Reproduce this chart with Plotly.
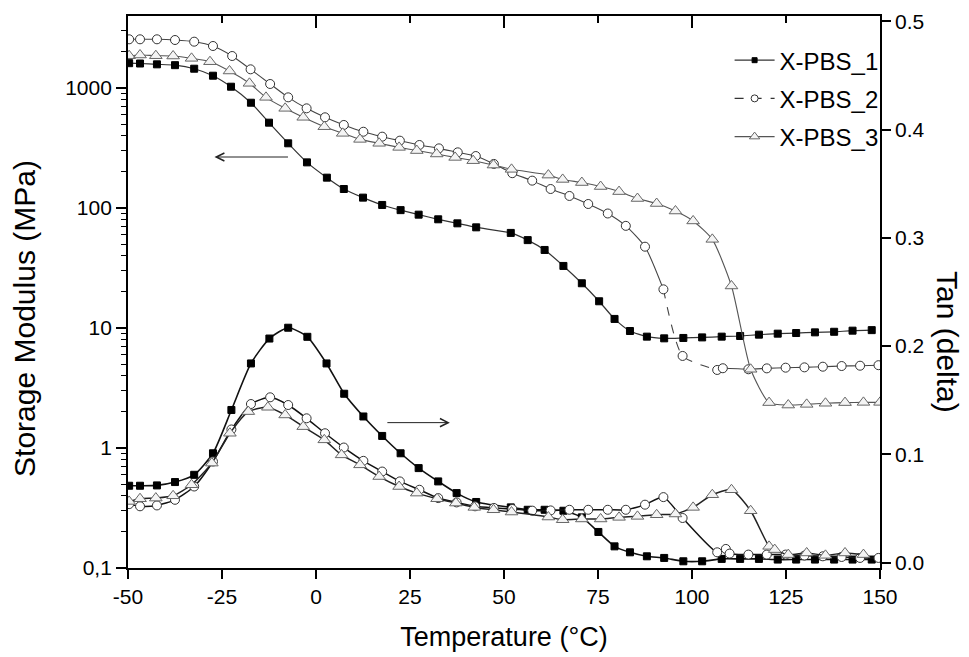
import plotly.graph_objects as go

# ---------------- data ----------------
T1_E = [-49.7, -46.8, -42.3, -37.5, -32.4, -27.4, -22.6, -17.3, -12.5, -7.4, -2.4, 2.9, 7.4, 12.5, 17.6,
        22.5, 27.3, 32.5, 37.6, 42.6, 51.8, 56.3, 60.8, 65.8, 70.7, 75.3, 79.4, 83.5, 88.0, 92.6,
        97.7, 102.7, 107.9, 112.8, 117.8, 122.8, 127.7, 132.7, 137.8, 142.7, 147.8]
E1 = [1610, 1600, 1575, 1550, 1448, 1266, 1025, 754, 514, 346, 240, 179, 144, 122, 106,
      96, 88, 80.5, 74.5, 69, 62, 54, 44.7, 32.9, 23.6, 16.7, 11.9, 9.44, 8.47, 8.2,
      8.26, 8.35, 8.47, 8.58, 8.8, 8.97, 9.08, 9.2, 9.3, 9.5, 9.6]

T2_E = [-49.7, -46.8, -42.3, -37.5, -32.4, -27.4, -22.3, -17.4, -12.2, -7.4, -2.5, 2.4, 7.4, 12.6, 17.6,
        22.3, 27.5, 32.7, 37.7, 42.5, 47.3, 52.2, 57.5, 62.4, 67.4, 72.4, 77.6, 82.4, 87.5, 92.4,
        97.5, 106.7, 108.2, 115.0, 119.9, 124.9, 129.9, 134.8, 139.8, 144.7, 149.6]
E2 = [2546, 2546, 2546, 2512, 2432, 2239, 1848, 1431, 1080, 836, 677, 570, 492, 432, 393,
      364, 335, 314, 291, 271, 233, 195, 169, 144, 126, 108, 90, 71, 47.6, 21,
      5.85, 4.47, 4.62, 4.53, 4.61, 4.67, 4.70, 4.76, 4.82, 4.85, 4.9]

T3_E = [-49.7, -46.8, -42.6, -38.0, -33.1, -28.2, -23.0, -17.7, -13.3, -8.2, -3.4, 2.2, 7.1, 11.7, 16.8,
        22.1, 26.8, 32.1, 37.0, 41.8, 47.2, 52.0, 61.8, 65.6, 70.7, 75.7, 80.6, 85.5, 90.6, 95.6,
        100.3, 105.4, 110.5, 115.6, 120.5, 125.6, 130.5, 135.5, 140.7, 145.6, 150.0]
E3 = [1858, 1884, 1858, 1848, 1767, 1656, 1386, 1094, 836, 677, 570, 476, 419, 373, 346,
      320, 301, 282, 264, 248, 228, 210, 188, 173, 163, 151, 137, 120, 109, 94.4,
      78, 54.8, 22.4, 4.53, 2.39, 2.28, 2.31, 2.36, 2.39, 2.40, 2.40]

T1_tan = [-49.7, -46.8, -42.3, -37.5, -32.4, -27.4, -22.5, -17.3, -12.4, -7.4, -2.3, 2.8, 7.5, 12.6, 17.6,
          22.5, 27.3, 32.5, 37.4, 42.6, 51.8, 56.3, 60.8, 65.8, 70.7, 75.1, 79.4, 83.5, 88.0, 92.6,
          97.7, 102.7, 107.9, 112.8, 117.8, 122.8, 127.7, 132.7, 137.8, 142.7, 147.8]
tan1 = [0.071, 0.071, 0.0713, 0.0744, 0.0811, 0.101, 0.141, 0.184, 0.207, 0.217, 0.2086, 0.184, 0.156, 0.135, 0.117,
        0.101, 0.0873, 0.075, 0.0642, 0.056, 0.051, 0.0488, 0.0488, 0.0479, 0.0418, 0.0283, 0.015, 0.0095, 0.0058, 0.0043,
        0.0012, 0.0012, 0.0034, 0.0034, 0.0034, 0.0028, 0.0028, 0.0028, 0.0028, 0.0028, 0.0028]

T2_tan = [-49.7, -46.8, -42.3, -37.5, -32.4, -27.4, -22.5, -17.3, -12.2, -7.4, -2.5, 2.4, 7.4, 12.6, 17.6,
          22.3, 27.5, 32.5, 37.4, 42.3, 47.3, 52.2, 57.5, 62.4, 67.4, 72.4, 77.6, 82.4, 87.5, 92.4,
          97.5, 106.7, 109.0, 110.0, 115.0, 119.9, 124.9, 129.9, 134.8, 139.8, 144.7, 149.6]
tan2 = [0.054, 0.052, 0.0528, 0.058, 0.0703, 0.0934, 0.123, 0.1465, 0.1527, 0.1456, 0.1333, 0.1195, 0.1063, 0.094, 0.0841,
        0.075, 0.0673, 0.0596, 0.0556, 0.052, 0.0505, 0.0495, 0.048, 0.0482, 0.0488, 0.0488, 0.0488, 0.0488, 0.0535, 0.0605,
        0.0412, 0.0095, 0.0126, 0.0083, 0.0074, 0.0074, 0.0074, 0.0065, 0.0058, 0.0052, 0.0043, 0.0043]

T3_tan = [-49.7, -46.8, -42.6, -38.0, -33.1, -27.7, -22.9, -18.0, -12.8, -8.2, -3.4, 2.2, 6.8, 11.7, 16.8,
          22.1, 26.8, 32.2, 37.2, 42.1, 47.2, 52.0, 61.8, 65.6, 70.7, 75.7, 80.6, 85.5, 90.6, 95.6,
          100.3, 105.4, 110.5, 115.6, 120.5, 122.0, 125.6, 130.5, 135.5, 140.7, 145.6]
tan3 = [0.0565, 0.059, 0.0596, 0.0617, 0.0719, 0.0919, 0.1195, 0.1395, 0.1435, 0.1364, 0.1256, 0.1134, 0.0995, 0.0903, 0.0795,
        0.0703, 0.0642, 0.059, 0.055, 0.051, 0.0488, 0.0467, 0.0421, 0.0396, 0.0403, 0.0403, 0.0418, 0.0427, 0.0442, 0.0449,
        0.051, 0.0627, 0.0673, 0.0479, 0.015, 0.012, 0.0074, 0.0089, 0.0067, 0.0089, 0.0074]

series_names = ["X-PBS_1", "X-PBS_2", "X-PBS_3"]
x_ticks = [-50, -25, 0, 25, 50, 75, 100, 125, 150]
x_ticktext = ["-50", "-25", "0", "25", "50", "75", "100", "125", "150"]
y_ticks = [0.1, 1, 10, 100, 1000]
y_ticktext = ["0,1", "1", "10", "100", "1000"]
y2_ticks = [0.0, 0.1, 0.2, 0.3, 0.4, 0.5]
y2_ticktext = ["0.0", "0.1", "0.2", "0.3", "0.4", "0.5"]

# ---------------- styles ----------------
FONT = "Liberation Sans, Arial, sans-serif"
m1 = dict(symbol="square", size=7, color="black", line=dict(color="black", width=1))
m2 = dict(symbol="circle", size=9, color="white", line=dict(color="#333333", width=1))
m3 = dict(symbol="triangle-up", size=11, color="#f4f4f4", line=dict(color="#666666", width=1))
SPL = dict(shape="spline", smoothing=0.6)

fig = go.Figure()

# storage modulus (left log axis)
fig.add_trace(go.Scatter(x=T1_E, y=E1, mode="lines+markers", marker=m1,
                         line=dict(color="#333333", width=1.2, **SPL), showlegend=False))
i0 = T2_E.index(92.4)
i1 = T2_E.index(106.7)
fig.add_trace(go.Scatter(x=T2_E[:i0 + 1], y=E2[:i0 + 1], mode="lines",
                         line=dict(color="#444444", width=1.1, **SPL), showlegend=False))
fig.add_trace(go.Scatter(x=T2_E[i0:i1 + 1], y=E2[i0:i1 + 1], mode="lines",
                         line=dict(color="#444444", width=1.1, dash="dash", **SPL), showlegend=False))
fig.add_trace(go.Scatter(x=T2_E[i1:], y=E2[i1:], mode="lines",
                         line=dict(color="#444444", width=1.1, **SPL), showlegend=False))
fig.add_trace(go.Scatter(x=T2_E, y=E2, mode="markers", marker=m2, showlegend=False))
fig.add_trace(go.Scatter(x=T3_E, y=E3, mode="lines+markers", marker=m3,
                         line=dict(color="#555555", width=1.1, **SPL), showlegend=False))

# tan delta (right axis)
fig.add_trace(go.Scatter(x=T1_tan, y=tan1, yaxis="y2", mode="lines+markers", marker=m1,
                         line=dict(color="#111111", width=1.6, **SPL), showlegend=False))
fig.add_trace(go.Scatter(x=T2_tan, y=tan2, yaxis="y2", mode="lines+markers", marker=m2,
                         line=dict(color="#111111", width=1.5, **SPL), showlegend=False))
fig.add_trace(go.Scatter(x=T3_tan, y=tan3, yaxis="y2", mode="lines+markers", marker=m3,
                         line=dict(color="#222222", width=1.5, **SPL), showlegend=False))

# top mirror axis holder
fig.add_trace(go.Scatter(x=T1_E, y=E1, xaxis="x2", mode="none", showlegend=False, hoverinfo="skip"))

# legend entries
for k, (name, mk, dash, col) in enumerate([(series_names[0], m1, "solid", "#333333"),
                                           (series_names[1], m2, "dash", "#333333"),
                                           (series_names[2], m3, "solid", "#555555")]):
    mk2 = dict(mk)
    mk2["size"] = mk["size"] - 2
    fig.add_trace(go.Scatter(x=[None], y=[None], mode="lines+markers", name=name, marker=mk2,
                             legendgroup=f"g{k}",
                             line=dict(color=col, width=1.2, dash=dash)))

minor_vals = [m * 10 ** e for e in range(-1, 4) for m in range(2, 10) if m * 10 ** e < 4000]

axis_common = dict(showgrid=False, zeroline=False, showline=True, linecolor="black", linewidth=1.8,
                   tickcolor="black", tickwidth=1.6, automargin=False)

fig.update_layout(
    width=969, height=657,
    margin=dict(l=128, r=89, t=16, b=89),
    paper_bgcolor="white", plot_bgcolor="white",
    font=dict(family=FONT, color="black", size=21),
    xaxis=dict(range=[-50, 150], tickmode="array", tickvals=x_ticks, ticktext=x_ticktext,
               ticks="outside", ticklen=9, tickfont=dict(size=21),
               title=dict(text="Temperature (°C)", font=dict(size=27), standoff=20), **axis_common),
    xaxis2=dict(range=[-50, 150], overlaying="x", side="top", anchor="y", showticklabels=False,
                tick0=-50, dtick=50, ticks="inside", ticklen=12,
                minor=dict(dtick=25, tick0=-50, ticks="inside", ticklen=7, tickwidth=1.6, tickcolor="black"),
                **axis_common),
    yaxis=dict(type="log", range=[-1, 3.6], tickmode="array", tickvals=y_ticks, ticktext=y_ticktext,
               ticks="outside", ticklen=10, tickfont=dict(size=21),
               minor=dict(tickmode="array", tickvals=minor_vals, ticks="outside", ticklen=5,
                          tickwidth=1.3, tickcolor="black"),
               **axis_common),
    yaxis2=dict(range=[-0.005, 0.505], overlaying="y", side="right", anchor="x", tickmode="array",
                tickvals=y2_ticks, ticktext=y2_ticktext, ticks="outside", ticklen=9,
                tickfont=dict(size=21), **axis_common),
    legend=dict(x=0.80, y=0.96, xanchor="left", yanchor="top", bgcolor="rgba(0,0,0,0)",
                font=dict(size=24), tracegroupgap=4, itemwidth=40),
    annotations=[
        dict(text="Storage Modulus (MPa)", xref="paper", yref="paper", x=-0.137, y=0.453,
             xanchor="center", yanchor="middle", textangle=-90, showarrow=False, font=dict(size=30)),
        dict(text="Tan (delta)", xref="paper", yref="paper", x=1.09, y=0.41, xanchor="center",
             yanchor="middle", textangle=90, showarrow=False, font=dict(size=30)),
        dict(x=-27, y=2.425, xref="x", yref="y", ax=75, ay=0, text="", showarrow=True,
             arrowhead=5, arrowsize=1.6, arrowwidth=1, arrowcolor="#222222"),
        dict(x=35.6, y=0.1293, xref="x", yref="y2", ax=-64, ay=0, text="", showarrow=True,
             arrowhead=5, arrowsize=1.6, arrowwidth=1, arrowcolor="#222222"),
    ],
)

fig.write_html("out.html", config={"displayModeBar": False},
               post_script="document.body.style.margin='0px';")
